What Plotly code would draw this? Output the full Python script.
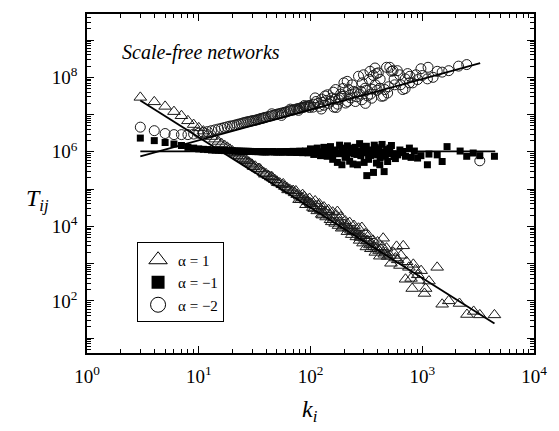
import plotly.graph_objects as go

# ---- alpha = 1 (open triangles) ----
tri_k = [3, 4, 5, 6, 7, 8, 9, 10, 11, 12, 13, 14, 15, 16, 17, 18, 19, 20, 21, 22, 23, 24, 25, 26, 27, 28, 29, 30,
         32, 34, 36, 38, 40, 42, 44, 46, 48, 50, 53, 56, 59, 62, 65, 68, 72, 76, 80, 85, 90, 95, 100,
         74, 79, 85, 91, 98, 105, 110, 115, 120, 126, 132, 138, 145, 151, 158, 166, 174, 178, 186, 195,
         204, 214, 224, 234, 245, 257, 269, 275, 288, 295, 309, 316, 331, 347, 363, 380, 398, 417, 447, 457,
         479, 490, 525, 550, 589, 603, 631, 676, 708, 724, 794, 813, 871, 912, 977, 1047, 1072, 1148, 1360, 1507,
         1726, 2153, 2512, 2884, 3273, 4426,
         102, 112, 123, 135, 148, 162, 182, 200, 219, 240, 263, 282, 302, 324, 355, 389, 427, 468, 513, 575,
         646, 759, 832, 933,
         31, 35, 39, 45, 51, 57, 63, 70, 82, 88, 108, 118, 128, 142, 155, 170, 190, 210, 230, 250,
         280, 320, 340, 370, 410, 440]
tri_T = [2.9e7, 2.2e7, 1.66e7, 1.2e7, 9.3e6, 6.8e6, 5.4e6, 4.4e6, 3.6e6, 3.0e6, 2.57e6, 2.19e6, 1.9e6, 1.66e6,
         1.48e6, 1.32e6, 1.17e6, 1.05e6, 9.5e5, 8.7e5, 7.9e5, 7.2e5, 6.6e5, 6.2e5, 5.75e5, 5.25e5, 4.9e5, 4.6e5,
         4.1e5, 3.55e5, 3.2e5, 2.8e5, 2.57e5, 2.3e5, 2.1e5, 1.95e5, 1.78e5, 1.62e5, 1.45e5, 1.3e5, 1.17e5, 1.07e5,
         9.8e4, 8.9e4, 7.9e4, 7.1e4, 6.5e4, 5.75e4, 5.1e4, 4.6e4, 4.2e4,
         8.9e4, 5.2e4, 7.1e4, 3.8e4, 5.6e4, 3.2e4, 4.8e4, 2.6e4, 4.0e4, 2.1e4, 3.3e4, 1.78e4, 2.8e4, 1.5e4, 2.4e4,
         1.2e4, 2.5e4, 1.05e4, 1.78e4, 9.5e3, 1.4e4, 7.2e3, 1.26e4, 6.0e3, 1.05e4, 5.2e3, 8.9e3, 4.2e3, 9.3e3,
         3.55e3, 6.3e3, 2.8e3, 5.6e3, 2.5e3, 4.2e3, 2.0e3, 3.8e3, 1.58e3, 4.8e3, 1.78e3, 2.6e3, 1.55e3, 1.02e3,
         2.0e3, 2.9e3, 1.26e3, 890, 3.0e3, 380, 1.12e3, 400, 214, 676, 500, 646, 158, 214, 339, 794, 81, 100, 85,
         43, 52, 42, 42,
         4.0e4, 3.55e4, 2.8e4, 2.4e4, 2.0e4, 1.66e4, 1.32e4, 1.12e4, 8.9e3, 7.6e3, 6.6e3, 5.6e3, 4.8e3, 4.2e3,
         3.3e3, 2.75e3, 2.4e3, 2.0e3, 1.66e3, 1.41e3, 1.66e3, 794, 955, 355,
         4.0e5, 3.55e5, 2.5e5, 2.14e5, 1.48e5, 1.38e5, 9.5e4, 9.1e4, 5.2e4, 6.3e4, 3.0e4, 3.55e4, 2.0e4, 2.5e4,
         1.32e4, 2.0e4, 8.9e3, 1.05e4, 7.9e3, 7.1e3, 5.0e3, 4.0e3, 3.16e3, 2.8e3, 2.24e3, 2.8e3]

# ---- alpha = -1 (filled squares) ----
sq_k = [3, 4, 5, 6, 7, 8, 9, 10, 11, 12, 13, 14, 15, 16, 17, 18, 19, 20, 22, 24, 26, 28, 30, 33, 36, 40, 44, 48,
        52, 56, 60, 65, 70, 75, 80, 85, 90, 95, 100,
        100, 107, 115, 123, 132, 141, 151, 158, 166, 174, 182, 191, 195, 204, 214, 224, 234, 240, 251, 263,
        275, 282, 295, 302, 316, 319, 331, 339, 355, 366, 372, 389, 407, 417, 437, 456, 468, 490, 513, 530,
        550, 575, 603, 631, 670, 708, 767, 794, 908, 973, 1112, 1148, 1361, 1507, 1667, 2183, 2500, 2858, 3273, 4426,
        102, 112, 120, 129, 138, 148, 162, 178, 200, 219, 245, 269, 288, 324, 363, 398, 447, 501,
        105, 125, 145, 170, 190, 210, 230, 260, 300, 345, 380, 420, 480, 560, 650, 850,
        21, 23, 25, 27, 29, 31, 32, 34, 35, 37, 38, 39, 42, 46, 50, 54, 58, 62, 67, 72, 77, 82, 87, 92, 97]
sq_T = [2.34e6, 2.0e6, 1.78e6, 1.62e6, 1.48e6, 1.32e6, 1.26e6, 1.2e6, 1.17e6, 1.15e6, 1.12e6, 1.11e6, 1.1e6,
        1.09e6, 1.08e6, 1.07e6, 1.065e6, 1.06e6, 1.05e6, 1.04e6, 1.03e6, 1.03e6, 1.02e6, 1.02e6, 1.01e6, 1.0e6,
        1.0e6, 9.9e5, 1.0e6, 9.8e5, 1.01e6, 9.7e5, 1.03e6, 9.6e5, 1.04e6, 9.5e5, 1.05e6, 9.4e5, 1.07e6,
        1.2e6, 8.5e5, 1.26e6, 7.9e5, 1.32e6, 7.6e5, 1.38e6, 6.3e5, 1.12e6, 5.2e5, 1.51e6, 4.5e5, 1.26e6, 7.1e5,
        1.45e6, 5.6e5, 1.12e6, 4.7e5, 1.32e6, 4.5e5, 1.66e6, 7.9e5, 1.2e6, 5.2e5, 1.41e6, 2.3e5, 6.3e5, 1.12e6,
        8.9e5, 2.8e5, 1.51e6, 5.0e5, 1.2e6, 4.5e5, 1.58e6, 2.95e5, 7.6e5, 5.5e5, 1.26e6, 1.48e6, 8.9e5, 6.6e5,
        8.3e5, 1.12e6, 1.02e6, 7.6e5, 1.26e6, 7.1e5, 6.8e5, 7.9e5, 4.5e5, 8.7e5, 8.3e5, 5.5e5, 1.38e6, 1.05e6,
        7.6e5, 9.3e5, 7.9e5, 7.6e5,
        1.0e6, 1.05e6, 9.5e5, 1.0e6, 1.07e6, 9.3e5, 1.0e6, 8.9e5, 1.0e6, 9.5e5, 8.9e5, 1.05e6, 9.5e5, 9.5e5,
        1.05e6, 8.3e5, 1.0e6, 8.9e5,
        1.1e6, 9.0e5, 1.15e6, 9.0e5, 1.2e6, 8.0e5, 1.25e6, 8.5e5, 1.3e6, 8.0e5, 1.3e6, 7.0e5, 1.15e6, 7.5e5,
        9.5e5, 1.05e6,
        1.055e6, 1.045e6, 1.035e6, 1.03e6, 1.025e6, 1.02e6, 1.015e6, 1.01e6, 1.02e6, 1.0e6, 1.01e6, 1.0e6,
        1.0e6, 1.02e6, 9.8e5, 1.01e6, 9.9e5, 1.02e6, 9.8e5, 1.01e6, 9.7e5, 1.03e6, 9.9e5, 9.6e5, 1.04e6]

# ---- alpha = -2 (open circles) ----
ci_k = [3, 4, 5, 6, 7, 8, 9, 10, 11, 12, 13, 14, 15, 16, 17, 18, 19, 20, 22, 24, 26, 28, 30, 33, 36, 40, 44, 48,
        52, 56, 60, 65, 70, 75, 80, 85, 90, 95, 100,
        105, 112, 120, 126, 132, 142, 145, 155, 162, 168, 170, 178, 186, 192, 199, 206, 213, 220, 229, 243,
        252, 269, 275, 288, 298, 308, 324, 341, 353, 378, 380, 389, 404, 417, 432, 462, 479, 490, 512, 530,
        547, 566, 598, 627, 670, 703, 705, 767, 776, 879, 908, 973, 1112, 1127, 1361, 1507, 1726, 2113, 2500, 3273,
        107, 117, 129, 138, 151, 166, 182, 200, 224, 251, 282, 316, 355,
        110, 125, 135, 160, 175, 195, 215, 235, 260, 290, 310, 335, 345, 365, 395, 420, 450, 500, 560, 640,
        740, 820, 1000, 1250,
        21, 23, 25, 27, 29, 31, 32, 34, 35, 37, 38, 39, 42, 46, 50, 54, 58, 62, 67, 72, 77, 82, 87, 92, 97,
        45, 55, 66, 78, 88, 98]
ci_T = [4.6e6, 3.7e6, 3.1e6, 2.9e6, 2.9e6, 2.9e6, 3.0e6, 3.16e6, 3.3e6, 3.5e6, 3.7e6, 3.9e6, 4.1e6, 4.3e6,
        4.5e6, 4.7e6, 4.9e6, 5.0e6, 5.4e6, 5.75e6, 6.2e6, 6.5e6, 6.8e6, 7.2e6, 7.8e6, 8.5e6, 9.1e6, 9.8e6,
        1.05e7, 1.1e7, 1.17e7, 1.26e7, 1.32e7, 1.41e7, 1.48e7, 1.55e7, 1.62e7, 1.7e7, 1.78e7,
        1.58e7, 2.24e7, 1.66e7, 2.6e7, 1.78e7, 3.4e7, 2.0e7, 2.8e7, 1.58e7, 4.7e7, 1.55e7, 2.5e7, 3.55e7, 3.1e7,
        7.1e7, 2.04e7, 7.8e7, 4.7e7, 2.8e7, 4.2e7, 2.24e7, 1.07e8, 3.55e7, 2.5e7, 1.17e8, 5.1e7, 3.16e7, 1.45e8,
        2.75e7, 1.78e8, 6.3e7, 1.26e8, 1.32e8, 5.1e7, 3.1e7, 4.7e7, 1.86e8, 3.8e7, 1.86e8, 1.45e8, 1.51e8, 6.3e7,
        1.51e8, 1.17e8, 4.7e7, 5.0e7, 9.1e7, 7.1e7, 1.07e8, 1.17e8, 8.7e7, 1.7e8, 9.1e7, 1.86e8, 1.45e8, 1.38e8,
        1.51e8, 2.0e8, 2.2e8, 5.75e5,
        1.9e7, 2.0e7, 2.14e7, 2.4e7, 2.3e7, 2.6e7, 2.8e7, 3.16e7, 3.3e7, 4.0e7, 4.2e7, 4.5e7, 4.8e7,
        2.8e7, 1.41e7, 3.16e7, 4.0e7, 1.9e7, 5.0e7, 2.24e7, 6.3e7, 3.0e7, 7.1e7, 2.0e7, 8.9e7, 3.55e7, 1.12e8,
        4.5e7, 8.9e7, 3.16e7, 5.6e7, 8.9e7, 6.3e7, 1.26e8, 7.1e7, 1.12e8, 1.0e8,
        5.2e6, 5.6e6, 6.0e6, 6.35e6, 6.65e6, 6.9e6, 7.05e6, 7.4e6, 7.6e6, 7.95e6, 8.1e6, 8.3e6, 8.8e6, 9.5e6,
        1.02e7, 1.08e7, 1.14e7, 1.2e7, 1.29e7, 1.36e7, 1.44e7, 1.51e7, 1.58e7, 1.66e7, 1.74e7,
        1.05e7, 9.5e6, 1.4e7, 1.3e7, 1.75e7, 1.55e7]

# ---- power-law fits (end points) ----
fit1_k, fit1_T = [3, 4430], [2.4e7, 24.5]
fitm1_k, fitm1_T = [3, 4500], [1.03e6, 1.03e6]
fitm2_k, fitm2_T = [3, 3300], [7.6e5, 2.4e8]

legend_names = ["α = 1", "α = −1", "α = −2"]
x_ticks = [1, 10, 100, 1000, 10000]
x_ticktext = ["10<sup>0</sup>", "10<sup>1</sup>", "10<sup>2</sup>", "10<sup>3</sup>", "10<sup>4</sup>"]
y_ticks = [1e1, 1e2, 1e3, 1e4, 1e5, 1e6, 1e7, 1e8, 1e9]
y_ticktext = ["", "10<sup>2</sup>", "", "10<sup>4</sup>", "", "10<sup>6</sup>", "", "10<sup>8</sup>", ""]

SERIF = "Liberation Serif, Times New Roman, serif"
INK = "#1a1a1a"

fig = go.Figure()

fig.add_trace(go.Scatter(x=tri_k, y=tri_T, mode="markers", showlegend=False,
                         marker=dict(symbol="triangle-up-open", size=11, color=INK, line=dict(width=1))))
fig.add_trace(go.Scatter(x=ci_k, y=ci_T, mode="markers", showlegend=False,
                         marker=dict(symbol="circle-open", size=10, color=INK, line=dict(width=1))))
fig.add_trace(go.Scatter(x=sq_k, y=sq_T, mode="markers", showlegend=False,
                         marker=dict(symbol="square", size=7, color="black", line=dict(width=0))))

for fk, fT in [(fit1_k, fit1_T), (fitm1_k, fitm1_T), (fitm2_k, fitm2_T)]:
    fig.add_trace(go.Scatter(x=fk, y=fT, mode="lines", showlegend=False,
                             line=dict(color="black", width=1.8)))

# legend entries with larger symbols
legend_markers = [
    dict(symbol="triangle-up-open", size=16, color="black", line=dict(width=1)),
    dict(symbol="square", size=13, color="black", line=dict(width=0)),
    dict(symbol="circle-open", size=15, color="black", line=dict(width=1)),
]
for name, mk in zip(legend_names, legend_markers):
    fig.add_trace(go.Scatter(x=[None], y=[None], mode="markers", name=name, marker=mk))

axis_style = dict(
    type="log", showline=True, linecolor="black", linewidth=1.5, mirror="allticks",
    ticks="inside", ticklen=7, tickwidth=1.2, tickcolor="black",
    showgrid=False, zeroline=False,
    tickfont=dict(family=SERIF, size=19, color="black"),
    minor=dict(ticks="inside", ticklen=4, tickwidth=1, tickcolor="black", dtick="D1", showgrid=False),
)

fig.update_xaxes(**axis_style, range=[0, 4], tickmode="array", tickvals=x_ticks, ticktext=x_ticktext,
                 ticklabelstandoff=5)
fig.update_yaxes(**axis_style, range=[0.6, 9.7], tickmode="array", tickvals=y_ticks, ticktext=y_ticktext,
                 ticklabelstandoff=4)

fig.update_layout(
    width=559, height=431,
    margin=dict(l=87, r=17, t=13, b=78),
    plot_bgcolor="white", paper_bgcolor="white",
    font=dict(family=SERIF, color="black"),
    legend=dict(x=0.112, y=0.326, xanchor="left", yanchor="top",
                bordercolor="black", borderwidth=1, bgcolor="white",
                font=dict(family=SERIF, size=15, color="black")),
    annotations=[
        dict(text="<i>Scale-free networks</i>", xref="paper", yref="paper", x=0.074, y=0.925,
             xanchor="left", yanchor="top", showarrow=False, font=dict(family=SERIF, size=20)),
        dict(text="<i>T</i><sub><i>ij</i></sub>", xref="paper", yref="paper", x=-0.14, y=0.45,
             xanchor="left", yanchor="middle", showarrow=False, font=dict(family=SERIF, size=24)),
        dict(text="<i>k</i><sub><i>i</i></sub>", xref="paper", yref="paper", x=0.477, y=-0.12,
             xanchor="left", yanchor="top", showarrow=False, font=dict(family=SERIF, size=24)),
    ],
)

fig.write_html("out.html")
